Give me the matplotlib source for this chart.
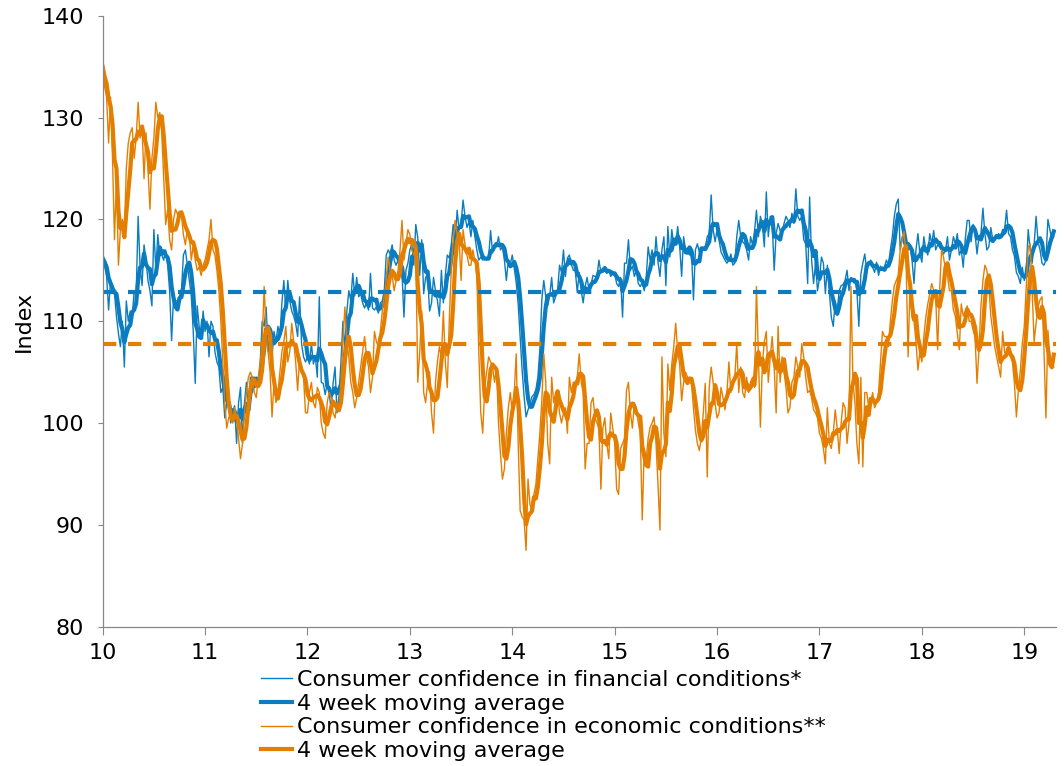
import matplotlib
matplotlib.use('Agg')
import matplotlib.pyplot as plt
import numpy as np
import pandas as pd

plt.rcParams['font.family'] = ['DejaVu Sans']

# weekly index values, one list per year (2019 is partial)
financial = {
    2010: [116.2, 115.4, 114.4, 111.1, 114.0, 113.5, 112.7, 110.5, 108.8, 107.5,
           110.0, 105.5, 112.0, 110.0, 111.0, 110.5, 113.0, 112.5, 120.3, 115.3,
           113.5, 117.5, 116.0, 114.0, 113.0, 111.5, 119.0, 115.0, 118.5, 116.5,
           116.5, 116.0, 117.0, 115.5, 113.0, 108.1, 112.5, 112.0, 112.0, 112.5,
           113.0, 116.5, 117.0, 115.5, 114.0, 112.5, 109.0, 103.9, 111.5, 109.5,
           108.5, 111.0],
    2011: [109.0, 110.0, 106.5, 110.0, 109.5, 107.0, 106.0, 105.5, 103.0, 103.5,
           100.5, 102.0, 102.0, 100.0, 101.0, 101.7, 98.0, 102.0, 103.5, 98.0,
           102.0, 104.0, 101.0, 104.5, 104.5, 104.5, 104.0, 103.5, 106.0, 110.0,
           109.5, 111.4, 107.0, 108.8, 106.5, 109.0, 108.0, 109.5, 108.5, 111.8,
           114.0, 111.0, 114.0, 112.0, 111.0, 110.5, 109.8, 108.5, 112.4, 107.8,
           106.5, 106.0],
    2012: [106.5, 105.8, 107.8, 105.8, 106.5, 104.5, 112.4, 104.0, 103.9, 102.8,
           103.9, 103.0, 101.3, 103.9, 105.5, 101.0, 102.6, 106.0, 110.0, 107.2,
           111.0, 113.0, 112.0, 114.7, 112.5, 114.3, 112.4, 112.7, 111.8, 111.3,
           111.8, 111.1, 114.7, 111.3, 111.1, 111.4, 110.8, 111.8, 112.0, 113.0,
           116.5, 117.0, 116.6, 117.5, 116.0, 115.5, 116.0, 115.0, 114.7, 110.4,
           115.0, 115.7],
    2013: [117.0, 117.6, 115.5, 119.5, 118.2, 114.5, 118.0, 112.7, 114.3, 114.5,
           111.0, 111.8, 114.3, 113.0, 112.0, 110.5, 115.0, 111.8, 114.5, 116.5,
           116.2, 117.5, 119.5, 117.6, 120.9, 119.0, 119.5, 121.9, 120.3, 119.2,
           119.8, 118.3, 119.9, 118.3, 117.0, 116.0, 116.3, 116.0, 116.3, 116.0,
           116.3, 118.9, 116.7, 117.5, 117.3, 118.3, 117.0, 117.3, 116.0, 114.0,
           116.0, 115.6],
    2014: [116.5, 115.2, 113.8, 111.7, 108.5, 105.2, 102.6, 100.6, 101.3, 101.9,
           102.6, 102.8, 103.3, 104.5, 107.2, 112.1, 114.0, 112.4, 111.5, 112.5,
           114.3, 111.8, 112.4, 113.0, 115.5, 114.8, 117.0, 114.4, 116.2, 116.5,
           115.6, 115.0, 115.0, 112.8, 114.8, 113.0, 111.8, 113.4, 114.3, 113.0,
           113.6, 114.5, 114.4, 114.4, 116.0, 114.8, 114.8, 115.3, 114.7, 115.0,
           114.4, 114.7],
    2015: [114.7, 113.7, 113.4, 114.3, 110.4, 115.7, 115.7, 118.0, 115.0, 115.4,
           114.4, 115.0, 113.7, 113.4, 113.8, 113.0, 114.2, 117.3, 116.0, 117.0,
           115.5, 118.3, 115.8, 114.4, 117.0, 118.3, 113.5, 119.3, 116.3, 119.0,
           117.5, 117.6, 119.3, 117.4, 114.4, 118.3, 117.0, 117.2, 116.5, 117.0,
           112.1, 117.0, 117.6, 116.8, 117.2, 117.0, 117.3, 118.3, 118.6, 122.4,
           119.0, 117.8],
    2016: [119.0, 118.0, 116.8, 116.4, 116.0, 115.7, 116.0, 116.6, 115.5, 115.7,
           118.3, 119.9, 118.3, 117.8, 117.6, 117.0, 116.0, 118.3, 117.5, 118.8,
           120.9, 118.3, 120.3, 119.5, 117.3, 122.7, 118.3, 120.3, 119.6, 115.0,
           118.6, 119.6, 118.9, 118.6, 119.6, 120.3, 119.9, 119.2, 120.6, 119.6,
           123.0, 120.3, 119.9, 120.3, 118.0, 117.6, 113.7, 122.2, 116.0, 113.7,
           115.7, 113.0],
    2017: [114.2, 116.3, 115.7, 112.7, 115.5, 113.0, 110.4, 109.5, 112.0, 111.0,
           113.0, 113.5, 113.6, 114.0, 115.0, 113.0, 114.3, 114.0, 114.2, 113.0,
           109.5, 114.6, 115.7, 116.6, 115.0, 115.5, 116.0, 115.3, 114.8, 115.8,
           114.5, 115.4, 115.0, 115.3, 116.0, 115.5, 117.0, 118.3, 120.3, 121.5,
           122.0, 117.0, 118.3, 117.5, 117.5, 117.0, 117.3, 116.0, 113.7, 117.0,
           118.6, 116.6],
    2018: [115.8, 118.3, 117.0, 116.5, 118.6, 117.6, 118.9, 117.0, 117.5, 117.3,
           117.0, 116.6, 117.0, 118.3, 116.0, 117.0, 118.3, 117.6, 118.6, 116.5,
           117.0, 115.3, 118.0, 119.9, 119.9, 117.8, 119.5, 118.6, 116.6, 118.3,
           118.6, 121.1, 118.6, 117.0, 117.3, 119.2, 118.0, 118.0, 118.3, 118.6,
           118.3, 119.0, 119.0, 120.9, 118.6, 118.3, 117.0, 116.4, 114.8, 114.4,
           113.7, 115.3],
    2019: [114.0, 115.0, 119.0, 117.0, 115.7, 117.5, 120.3, 117.8, 117.0, 115.7,
           115.5, 116.0, 120.0, 119.0, 118.0, 118.3],
}

economic = {
    2010: [135.0, 133.0, 132.0, 127.5, 132.0, 126.0, 118.0, 124.0, 115.5, 119.0,
           120.0, 118.5, 125.0, 127.5, 128.5, 129.0, 126.0, 128.0, 131.5, 128.0,
           129.0, 124.0, 128.5, 125.0, 121.0, 126.0, 128.0, 131.5, 130.0, 130.5,
           128.5, 124.0, 119.5, 121.0, 118.0, 117.0, 120.0, 121.0, 120.5, 120.8,
           120.5, 118.5, 117.5, 119.0, 118.5, 116.0, 117.5, 116.0, 115.0, 115.3,
           114.5, 115.5],
    2011: [116.0, 117.0, 118.0, 120.0, 117.0, 116.5, 115.0, 113.0, 110.0, 106.0,
           102.0, 99.5, 100.5, 101.0, 100.0, 101.5, 100.5, 98.5, 96.5, 98.0,
           101.0, 103.0, 104.5, 105.0, 104.5, 103.0, 102.5, 104.5, 106.0, 108.0,
           113.4, 109.0, 107.0, 105.0, 100.6, 104.0, 102.0, 103.0, 105.0, 107.0,
           108.0, 109.5, 106.0, 107.0, 109.8, 108.0, 106.0, 103.2, 106.5, 105.0,
           104.5, 101.0],
    2012: [101.0, 103.0, 104.0, 102.0, 101.5, 103.5, 103.0, 100.0, 99.0, 98.5,
           102.0, 103.0, 102.5, 101.0, 100.5, 102.0, 101.5, 104.0, 108.0, 111.4,
           108.0, 106.5, 104.0, 103.0, 101.5, 102.5, 104.0, 105.5, 107.0, 108.5,
           106.5, 105.5, 103.0, 104.5, 109.0, 108.0, 107.5, 109.0, 111.0, 112.5,
           114.0, 116.3, 115.0, 114.5, 113.0, 114.0, 115.0, 117.0, 119.9, 116.0,
           117.5, 119.0],
    2013: [118.5, 117.0, 116.5, 117.0, 104.0, 107.0, 111.0, 103.0, 102.0, 104.0,
           105.0, 101.0, 99.0, 104.0, 106.0, 107.5, 106.5, 111.0, 106.0, 103.5,
           110.0, 115.0, 118.0, 119.9, 118.5, 118.0, 114.0, 119.0, 117.5, 116.5,
           115.5, 115.5, 117.0, 116.0, 114.5, 107.0, 101.0, 99.0, 103.5, 105.0,
           106.5, 106.0, 105.5, 104.0, 105.5, 100.0, 97.0, 94.5, 95.5, 99.0,
           101.5, 103.0],
    2014: [101.0, 103.0, 106.8, 98.0, 91.4, 90.8, 90.5, 87.5, 94.5, 92.0,
           91.4, 93.0, 94.0, 96.5, 99.0, 102.2, 106.8, 104.0, 98.0, 96.0,
           104.5, 102.0, 103.0, 103.0, 101.0, 100.0, 101.0, 101.5, 99.0, 104.5,
           103.0, 104.0, 104.0, 104.5, 106.8, 104.0, 103.0, 95.5, 98.0, 98.0,
           102.0, 102.5, 100.5, 100.0, 99.5, 93.5, 99.5, 100.5, 98.0, 96.5,
           101.0, 99.5],
    2015: [98.0, 93.5, 93.0, 97.5, 98.0, 98.5, 103.2, 104.0, 101.0, 99.5,
           102.0, 101.5, 100.0, 99.0, 90.5, 97.5, 96.4, 98.5, 99.6, 100.0,
           100.6, 98.0, 94.0, 89.5, 106.5, 99.0, 96.7, 105.8, 103.2, 105.8,
           107.5, 109.8, 107.0, 105.8, 102.2, 104.0, 105.0, 104.5, 104.0, 103.9,
           101.5, 99.3, 98.0, 97.3, 98.6, 101.0, 103.9, 94.7, 103.5, 105.5,
           104.0, 101.9],
    2016: [100.5, 101.0, 103.5, 102.5, 101.3, 103.0, 106.0, 103.0, 104.0, 104.5,
           107.8, 103.0, 105.5, 103.0, 102.5, 104.5, 103.0, 104.0, 104.5, 103.5,
           113.4, 106.5, 99.6, 105.8, 108.0, 109.0, 104.0, 106.5, 108.5, 105.5,
           101.0, 109.5, 104.0, 106.5, 105.0, 103.5, 101.0, 101.5, 104.0, 104.5,
           106.5, 105.5, 104.5, 107.8, 106.5, 104.5, 103.0, 103.2, 102.5, 101.3,
           101.0, 100.5],
    2017: [99.0, 98.5, 97.5, 96.0, 101.5, 98.0, 97.5, 99.0, 101.3, 99.5,
           97.0, 100.0, 102.0, 101.5, 98.0, 100.0, 113.4, 104.0, 102.0, 98.0,
           96.0, 104.5, 95.7, 103.0, 103.0, 101.5, 102.0, 103.0, 101.5, 102.0,
           103.0, 106.0, 109.0, 108.5, 108.5, 107.5, 110.0, 112.0, 113.5, 114.0,
           114.5, 117.0, 118.0, 118.8, 115.7, 106.5, 113.7, 110.4, 110.0, 108.0,
           105.2, 107.0],
    2018: [106.0, 108.5, 110.4, 111.7, 112.7, 113.7, 113.0, 112.5, 107.2, 113.0,
           117.0, 116.3, 115.0, 114.5, 113.0, 113.0, 111.1, 110.5, 108.8, 107.2,
           111.7, 110.5, 111.0, 111.5, 110.0, 110.0, 109.1, 108.5, 103.9, 107.2,
           111.5, 114.0, 115.5, 115.0, 113.5, 110.5, 109.0, 107.5, 106.5, 105.5,
           104.5, 109.0, 107.0, 106.5, 107.0, 106.5, 106.0, 103.9, 100.6, 103.2,
           105.2, 107.8],
    2019: [109.5, 113.5, 117.3, 117.6, 113.0, 108.0, 109.8, 111.4, 112.1, 112.4,
           107.2, 100.5, 109.1, 106.5, 105.8, 105.5],
}

financial_avg = 112.9
economic_avg = 107.8

labels = ['Consumer confidence in financial conditions*',
          '4 week moving average',
          'Consumer confidence in economic conditions**',
          '4 week moving average']

blue = '#0a7cbf'
orange = '#e47e00'

fin = pd.Series(sum(financial.values(), []))
eco = pd.Series(sum(economic.values(), []))
x = 10 + np.arange(len(fin)) / 52.0
fin_ma = fin.rolling(4, min_periods=1).mean()
eco_ma = eco.rolling(4, min_periods=1).mean()

fig = plt.figure(figsize=(10.64, 7.66), dpi=100)
ax = fig.add_axes([0.0965, 0.1818, 0.896, 0.7977])

l1, = ax.plot(x, fin, color=blue, lw=1.0)
l2, = ax.plot(x, fin_ma, color=blue, lw=3.0)
l3, = ax.plot(x, eco, color=orange, lw=1.0)
l4, = ax.plot(x, eco_ma, color=orange, lw=3.0)
ax.axhline(financial_avg, color=blue, lw=3.0, dashes=(3.2, 2.8))
ax.axhline(economic_avg, color=orange, lw=3.0, dashes=(3.2, 2.8))

ax.set_xlim(10, 19.31)
ax.set_ylim(80, 140)
ax.set_xticks(range(10, 20))
ax.set_xticklabels([str(v) for v in range(10, 20)])
ax.set_yticks(range(80, 141, 10))
for s in ['top', 'right']:
    ax.spines[s].set_visible(False)
for s in ['left', 'bottom']:
    ax.spines[s].set_color('#888888')
    ax.spines[s].set_linewidth(0.9)
ax.tick_params(axis='x', direction='out', length=5.5, color='#888888', labelsize=16, pad=6)
ax.tick_params(axis='y', direction='out', length=3.6, color='#888888', labelsize=16, pad=10)
ax.set_ylabel('Index', fontsize=16, labelpad=5)

fig.legend([l1, l2, l3, l4], labels, loc='upper left',
           bbox_to_anchor=(0.2455, 0.125), frameon=False, fontsize=16,
           borderpad=0, borderaxespad=0, handlelength=1.4, handletextpad=0.2,
           labelspacing=0.16)

fig.savefig('out.png', dpi=100)
